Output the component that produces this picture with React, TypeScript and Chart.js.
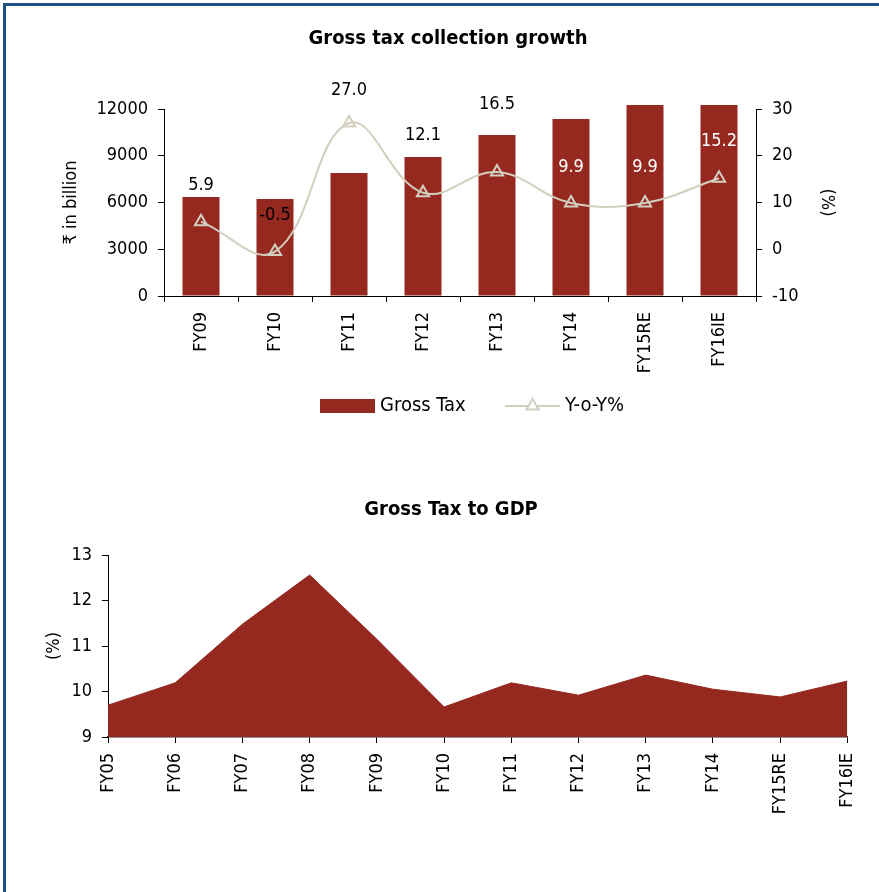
import React, { useEffect, useRef } from 'react';
import { Chart, registerables } from 'chart.js';

Chart.register(...registerables);

// ---------- data ----------
const growthCategories = ['FY09', 'FY10', 'FY11', 'FY12', 'FY13', 'FY14', 'FY15RE', 'FY16IE'];
const grossTax = [6350, 6230, 7890, 8920, 10330, 11360, 12500, 14400];
const yoyGrowth = [5.9, -0.5, 27.0, 12.1, 16.5, 9.9, 9.9, 15.2];
const leftTicks = [0, 3000, 6000, 9000, 12000];
const rightTicks = [-10, 0, 10, 20, 30];
const legendNames = ['Gross Tax', 'Y-o-Y%'];

const gdpCategories = ['FY05', 'FY06', 'FY07', 'FY08', 'FY09', 'FY10', 'FY11', 'FY12', 'FY13', 'FY14', 'FY15RE', 'FY16IE'];
const taxToGdp = [9.7, 10.19, 11.48, 12.56, 11.15, 9.66, 10.19, 9.92, 10.36, 10.05, 9.88, 10.23];
const gdpTicks = [9, 10, 11, 12, 13];

// label placement (pixels above each point) and colours
const yoyLabelOffsets = [-36, -36, -33, -57, -68, -36, -36, -37];
const yoyLabelColors = ['#000', '#000', '#000', '#000', '#000', '#fff', '#fff', '#fff'];

// ---------- styles ----------
const FONT = "'DejaVu Sans Condensed', 'Liberation Sans Narrow', 'Noto Sans', sans-serif";
const RED = '#952920';
const BEIGE = '#d3cfbf';
const BLACK = '#000';
const TICK_FONT = { family: FONT, size: 18 };

function drawTriangle(g: CanvasRenderingContext2D, cx: number, cy: number, r: number) {
  const side = (3 * r) / Math.sqrt(3);
  const h = (side * Math.sqrt(3)) / 2;
  g.beginPath();
  g.moveTo(cx - side / 2, cy + h / 3);
  g.lineTo(cx, cy - (2 * h) / 3);
  g.lineTo(cx + side / 2, cy + h / 3);
  g.closePath();
}

const yoyLabelPlugin = {
  id: 'yoyLabels',
  afterDatasetsDraw(chart: any) {
    const meta = chart.getDatasetMeta(1);
    const ctx = chart.ctx;
    ctx.save();
    ctx.font = `18px ${FONT}`;
    ctx.textAlign = 'center';
    ctx.textBaseline = 'middle';
    meta.data.forEach((pt: any, i: number) => {
      ctx.fillStyle = yoyLabelColors[i];
      ctx.fillText(yoyGrowth[i].toFixed(1), pt.x, pt.y + yoyLabelOffsets[i]);
    });
    ctx.restore();
  },
};

// legend drawn below the x axis labels
const comboLegendPlugin = {
  id: 'comboLegend',
  afterDraw(chart: any) {
    const ctx = chart.ctx;
    const cy = 406;
    ctx.save();
    ctx.font = `20px ${FONT}`;
    ctx.textBaseline = 'middle';
    ctx.textAlign = 'left';
    // bar symbol
    let x = 320;
    ctx.fillStyle = RED;
    ctx.fillRect(x, cy - 7, 55, 14);
    ctx.fillStyle = BLACK;
    ctx.fillText(legendNames[0], x + 60, cy);
    // line symbol
    x = 505;
    ctx.strokeStyle = BEIGE;
    ctx.lineWidth = 2;
    ctx.beginPath();
    ctx.moveTo(x, cy);
    ctx.lineTo(x + 55, cy);
    ctx.stroke();
    ctx.fillStyle = '#fff';
    drawTriangle(ctx, x + 27.5, cy, 7);
    ctx.fill();
    ctx.stroke();
    ctx.fillStyle = BLACK;
    ctx.fillText(legendNames[1], x + 60, cy);
    ctx.restore();
  },
};

function TopChart() {
  const ref = useRef<HTMLCanvasElement>(null);
  useEffect(() => {
    const chart = new Chart(ref.current!, {
      type: 'bar',
      data: {
        labels: growthCategories,
        datasets: [
          {
            type: 'bar',
            label: legendNames[0],
            data: grossTax,
            backgroundColor: RED,
            yAxisID: 'y',
            order: 2,
            barPercentage: 0.5,
            categoryPercentage: 1,
            clip: { left: false, right: false, top: 4, bottom: 0 } as any,
          },
          {
            type: 'line',
            label: legendNames[1],
            data: yoyGrowth,
            yAxisID: 'y1',
            order: 1,
            borderColor: BEIGE,
            borderWidth: 2,
            tension: 0.4,
            pointStyle: 'triangle',
            pointRadius: 7,
            pointBorderWidth: 2,
            pointBackgroundColor: 'rgba(0,0,0,0)',
            pointBorderColor: BEIGE,
          } as any,
        ],
      },
      options: {
        responsive: false,
        animation: false,
        layout: { padding: { left: 17, right: 0, top: 0, bottom: 74 } },
        plugins: {
          title: {
            display: true,
            text: 'Gross tax collection growth',
            color: BLACK,
            font: { family: FONT, size: 20, weight: 'bold' },
            padding: { top: 27, bottom: 58 },
          },
          legend: { display: false },
          tooltip: { enabled: false },
        },
        scales: {
          x: {
            afterFit: (s: any) => { s.height = 90; },
            grid: { display: true, drawOnChartArea: false, drawTicks: true, tickLength: 6, color: BLACK, offset: true },
            border: { display: true, color: BLACK },
            ticks: { minRotation: 90, maxRotation: 90, padding: 10, color: BLACK, font: TICK_FONT },
          },
          y: {
            position: 'left',
            min: 0,
            max: 12000,
            afterFit: (s: any) => { s.width = 147; },
            afterBuildTicks: (s: any) => { s.ticks = leftTicks.map((v) => ({ value: v })); },
            ticks: { padding: 10, color: BLACK, font: TICK_FONT, callback: (v: any) => String(v) },
            grid: { drawOnChartArea: false, tickLength: 6, color: BLACK },
            border: { display: true, color: BLACK },
            title: { display: true, text: '₹ in billion', color: BLACK, font: TICK_FONT, padding: { top: 44, bottom: 0 } },
          },
          y1: {
            position: 'right',
            min: -10,
            max: 30,
            afterFit: (s: any) => { s.width = 123; },
            afterBuildTicks: (s: any) => { s.ticks = rightTicks.map((v) => ({ value: v })); },
            ticks: { padding: 10, color: BLACK, font: TICK_FONT, callback: (v: any) => String(v) },
            grid: { drawOnChartArea: false, tickLength: 6, color: BLACK },
            border: { display: true, color: BLACK },
            title: { display: true, text: '(%)', color: BLACK, font: TICK_FONT, padding: { top: 42, bottom: 0 } },
          },
        },
      } as any,
      plugins: [yoyLabelPlugin, comboLegendPlugin],
    });
    return () => chart.destroy();
  }, []);
  return <canvas ref={ref} width={879} height={460} style={{ position: 'absolute', left: 0, top: 0 }} />;
}

function BottomChart() {
  const ref = useRef<HTMLCanvasElement>(null);
  useEffect(() => {
    const chart = new Chart(ref.current!, {
      type: 'line',
      data: {
        labels: gdpCategories,
        datasets: [
          {
            label: 'Gross Tax to GDP',
            data: taxToGdp,
            fill: 'start',
            backgroundColor: RED,
            borderColor: RED,
            borderWidth: 1,
            pointRadius: 0,
            tension: 0,
          },
        ],
      },
      options: {
        responsive: false,
        animation: false,
        layout: { padding: { left: 43, right: 20, top: 0, bottom: 65 } },
        plugins: {
          title: {
            display: true,
            text: 'Gross Tax to GDP',
            color: BLACK,
            font: { family: FONT, size: 20, weight: 'bold' },
            padding: { top: 38, bottom: 33 },
          },
          legend: { display: false },
          tooltip: { enabled: false },
        },
        scales: {
          x: {
            offset: false,
            afterFit: (s: any) => { s.height = 90; },
            grid: { display: true, drawOnChartArea: false, drawTicks: true, tickLength: 6, color: BLACK, offset: false },
            border: { display: true, color: '#222', width: 1.5 },
            ticks: { minRotation: 90, maxRotation: 90, padding: 10, color: BLACK, font: TICK_FONT },
          },
          y: {
            min: 9,
            max: 13,
            afterFit: (s: any) => { s.width = 65; },
            afterBuildTicks: (s: any) => { s.ticks = gdpTicks.map((v) => ({ value: v })); },
            ticks: { padding: 10, color: BLACK, font: TICK_FONT, callback: (v: any) => String(v) },
            grid: { drawOnChartArea: false, tickLength: 6, color: BLACK },
            border: { display: true, color: BLACK },
            title: { display: true, text: '(%)', color: BLACK, font: TICK_FONT, padding: { top: 1, bottom: 0 } },
          },
        },
      } as any,
    });
    return () => chart.destroy();
  }, []);
  return <canvas ref={ref} width={879} height={432} style={{ position: 'absolute', left: 0, top: 460 }} />;
}

export default function App() {
  return (
    <div style={{ position: 'absolute', left: 0, top: 0, width: 879, height: 892, overflow: 'hidden', background: '#fff' }}>
      <div
        style={{
          position: 'absolute',
          left: 3,
          top: 3,
          width: 900,
          height: 900,
          borderTop: '3px solid #1f4f85',
          borderLeft: '3px solid #1f4f85',
          boxSizing: 'border-box',
        }}
      />
      <TopChart />
      <BottomChart />
    </div>
  );
}
